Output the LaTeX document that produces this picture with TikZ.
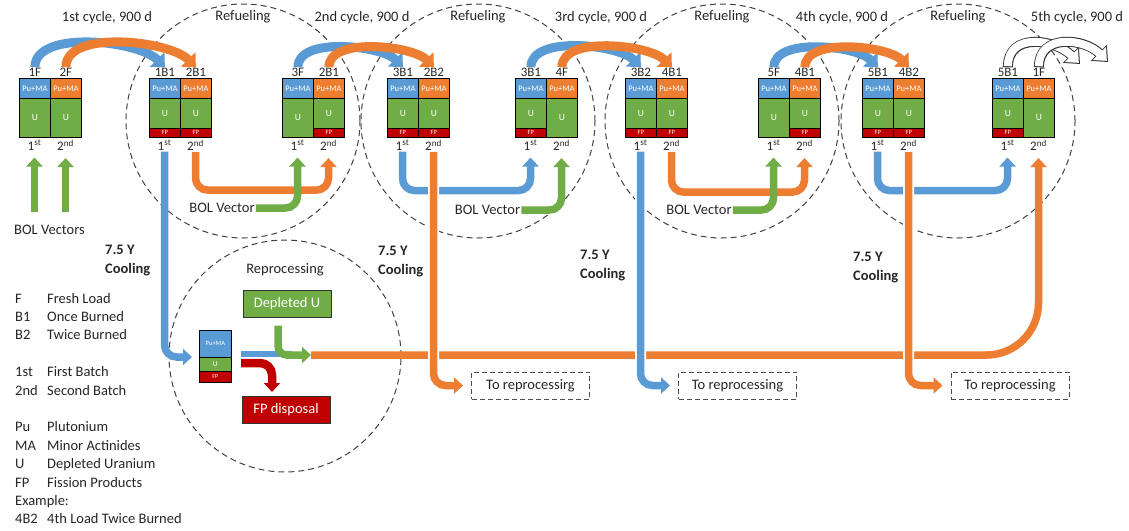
\documentclass[tikz,border=0pt]{standalone}
\usepackage{fontspec}
\setmainfont{Carlito}
\usetikzlibrary{positioning,arrows.meta,calc}

\definecolor{pblue}{RGB}{91,155,213}
\definecolor{porange}{RGB}{237,125,49}
\definecolor{ugreen}{RGB}{112,173,71}
\definecolor{fpred}{RGB}{192,0,0}
\definecolor{ink}{RGB}{38,38,38}

\tikzset{
  cell/.style={draw=black, line width=0.8pt, minimum width=31pt, inner sep=0pt,
    anchor=north west, text=white},
  pucell/.style={cell, minimum height=20pt, font=\fontsize{8.5}{9}\selectfont},
  ucell/.style={cell, fill=ugreen, minimum height=#1, font=\fontsize{9.5}{10}\selectfont},
  fpcell/.style={cell, fill=fpred, minimum height=9pt, font=\fontsize{6.5}{7}\selectfont},
  lbl/.style={text=ink, inner sep=1pt, font=\fontsize{13}{13}\selectfont},
  txt/.style={text=ink, inner sep=1pt, font=\fontsize{14.5}{17}\selectfont},
  cool/.style={txt, font=\fontsize{14.5}{19}\selectfont\bfseries, align=left, anchor=north west},
  zone/.style={circle, draw=black!75, line width=1pt, dash pattern=on 6pt off 4pt,
    minimum size=#1, inner sep=0pt},
  sink/.style={draw=black!70, line width=1pt, dash pattern=on 5pt off 3pt,
    minimum width=118pt, minimum height=27pt, txt},
  outbox/.style={draw=black!80, line width=1pt, minimum width=88pt, minimum height=27pt,
    text=white, font=\fontsize{14.5}{17}\selectfont},
  stream/.style={line width=7.5pt, rounded corners=12pt, -{Triangle[length=9pt,width=16pt]}},
  tobatch/.style={shorten >=6pt},
  loadarc/.style={line width=9pt, -{Triangle[length=11pt,width=20pt]}},
  bridge/.style={preaction={draw=white, line width=11pt, arrows=-}},
}

\begin{document}
\begin{tikzpicture}[x=1pt,y=1pt]
\useasboundingbox (0,0) rectangle (1129,-530);

% refueling and reprocessing zones
\node[zone=234pt] (rf1) at (243,-121) {};
\node[zone=234pt] (rf2) at (478,-121) {};
\node[zone=234pt] (rf3) at (722,-121) {};
\node[zone=234pt] (rf4) at (958,-121) {};
\node[zone=232pt] (rp) at (285,-356) {};
\foreach \i in {1,...,4}
  \node[txt, below=6pt of rf\i.north] (rl\i) {Refueling};
\node[txt, below=23pt of rp.north] (rpl) {Reprocessing};

% cycle titles
\node[txt] (cy1) at (107,-18) {1st cycle, 900 d};
\node[txt] (cy2) at (362,-18) {2nd cycle, 900 d};
\node[txt] (cy3) at (601,-18) {3rd cycle, 900 d};
\node[txt] (cy4) at (842,-18) {4th cycle, 900 d};
\node[txt] (cy5) at (1077,-18) {5th cycle, 900 d};

% fuel batches: number/left edge/load/burned
\foreach \n/\x/\lab/\fp in {1/19/1F/0, 2/50/2F/0, 3/149/1B1/1, 4/180/2B1/1,
    5/282/3F/0, 6/313/2B1/1, 7/387/3B1/1, 8/418/2B2/1, 9/515/3B1/1, 10/546/4F/0,
    11/625/3B2/1, 12/656/4B1/1, 13/758/5F/0, 14/789/4B1/1, 15/862/5B1/1,
    16/893/4B2/1, 17/992/5B1/1, 18/1023/1F/0}{
  \ifodd\n\relax \def\pc{pblue}\def\bk{1\textsuperscript{st}}%
  \else \def\pc{porange}\def\bk{2\textsuperscript{nd}}\fi
  \node[pucell, fill=\pc] (p\n) at (\x,-78) {Pu+MA};
  \ifnum\fp=1
    \node[ucell=30pt] (u\n) at (\x,-98) {U};
    \node[fpcell] (f\n) at (\x,-128) {FP};
  \else
    \node[ucell=39pt] (u\n) at (\x,-98) {U};
  \fi
  \node[lbl, above=0pt of p\n] (t\n) {\lab};
  \node[lbl, anchor=north] (b\n) at (\x+15.5,-139) {\bk};
}

% reprocessed batch
\node[cell, fill=pblue, minimum width=32pt, minimum height=27pt,
  font=\fontsize{6.5}{7}\selectfont] (rpp) at (199,-330) {Pu+MA};
\node[cell, fill=ugreen, minimum width=32pt, minimum height=14pt,
  font=\fontsize{7.5}{8}\selectfont] (rpu) at (199,-357) {U};
\node[cell, fill=fpred, minimum width=32pt, minimum height=11pt,
  font=\fontsize{6}{6}\selectfont] (rpf) at (199,-371) {FP};
\node[outbox, fill=ugreen] (dpu) at (287,-303.5) {Depleted U};
\node[outbox, fill=fpred] (fpd) at (286,-410) {FP disposal};

\node[sink] (tr1) at (530.5,-385.5) {To reprocessirg};
\node[sink] (tr2) at (737.5,-385.5) {To reprocessing};
\node[sink] (tr3) at (1010,-385.5) {To reprocessing};

\node[txt] (bols) at (49.5,-230) {BOL Vectors};
\node[txt] (bv1) at (222,-208) {BOL Vector};
\node[txt] (bv2) at (487.5,-210) {BOL Vector};
\node[txt] (bv3) at (699,-210) {BOL Vector};

% irradiation cycles
\foreach \a/\b in {1/3, 2/4, 5/7, 6/8, 9/11, 10/12, 13/15, 14/16}{
  \ifodd\a\relax \def\pc{pblue}\else \def\pc{porange}\fi
  \draw[loadarc, \pc] (t\a.north) to[out=90,in=135,looseness=0.75] (t\b.north);
}
\coordinate (n1) at (1080,-64);
\coordinate (n2) at (1108,-62);
\foreach \a/\e in {17/n1, 18/n2}{
  \draw[line width=10pt, black!80, -{Triangle[length=13pt,width=22pt]}]
    (t\a.north) to[out=90,in=135,looseness=1.25] (\e);
  \draw[line width=8pt, white, -{Triangle[length=10.5pt,width=18pt]},
    shorten >=1.6pt, shorten <=1pt]
    (t\a.north) to[out=90,in=135,looseness=1.25] (\e);
}

% fresh loads
\coordinate (g1) at (34.5,-212);
\coordinate (g2) at (65.5,-212);
\draw[stream, ugreen, tobatch] (g1) -- (b1.south);
\draw[stream, ugreen, tobatch] (g2) -- (b2.south);

% refueling moves
\draw[stream, pblue] (b3.south) |- ([xshift=-7pt]rpu.north west);
\draw[stream, porange, tobatch] (b4.south) -- ++(0,-38) -| (b6.south);
\draw[stream, ugreen, tobatch] (bv1.east) -| (b5.south);

\draw[stream, pblue, tobatch] (b7.south) -- ++(0,-39) -| (b9.south);
\draw[stream, ugreen, tobatch] (bv2.east) -| (b10.south);

\draw[stream, porange, tobatch] (b12.south) -- ++(0,-40) -| (b14.south);
\draw[stream, ugreen, tobatch] (bv3.east) -| (b13.south);

\draw[stream, pblue, tobatch] (b15.south) -- ++(0,-39) -| (b17.south);

% reprocessing and return of Pu+MA
\coordinate (rpout) at (241,-354);
\coordinate (mixin) at (292,-354);
\coordinate (mix) at (311,-355);
\draw[stream, porange, tobatch, rounded corners=52pt] (mix) -| (b18.south);
\draw[pblue, line width=6pt] (rpout) -- (mixin);
\draw[stream, fpred, line width=8.5pt] ([yshift=-9pt]rpout) -| ([xshift=-14pt,yshift=4pt]fpd.north);
\draw[stream, ugreen, rounded corners=9pt] ([xshift=-9pt,yshift=-8pt]dpu.south) |- (mix);

% cooled batches
\draw[stream, porange, bridge] (b8.south) |- ([xshift=-8pt]tr1.west);
\draw[stream, pblue, bridge] (b11.south) |- ([xshift=-8pt]tr2.west);
\draw[stream, porange, bridge] (b16.south) |- ([xshift=-8pt]tr3.west);

\node[cool] (cl1) at (104,-244) {7.5 Y\\Cooling};
\node[cool] (cl2) at (377,-245) {7.5 Y\\Cooling};
\node[cool] (cl3) at (579,-249) {7.5 Y\\Cooling};
\node[cool] (cl4) at (852,-251) {7.5 Y\\Cooling};

% legend
\node[txt, anchor=north west, inner sep=0pt, font=\fontsize{14.5}{18.4}\selectfont]
  (key) at (15,-290) {%
  \begin{tabular}{@{}p{32pt}@{}l@{}}
  F & Fresh Load\\
  B1 & Once Burned\\
  B2 & Twice Burned\\[18.4pt]
  1st & First Batch\\
  2nd & Second Batch\\[18.4pt]
  Pu & Plutonium\\
  MA & Minor Actinides\\
  U & Depleted Uranium\\
  FP & Fission Products\\
  \multicolumn{2}{@{}l@{}}{Example:}\\
  4B2 & 4th Load Twice Burned
  \end{tabular}};

\end{tikzpicture}
\end{document}
